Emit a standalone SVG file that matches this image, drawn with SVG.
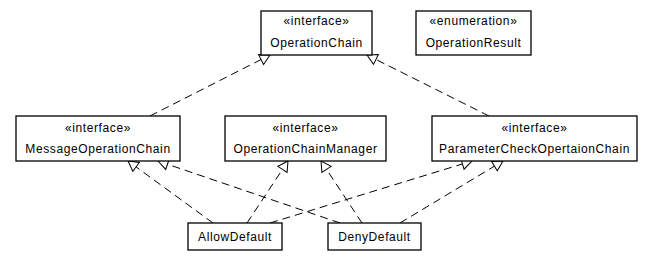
<svg xmlns="http://www.w3.org/2000/svg" width="656" height="267" viewBox="0 0 656 267">
  <style>
    .box { fill: #ffffff; stroke: #000000; stroke-width: 1.3; }
    .lbl { font-family: "Liberation Sans", Arial, Helvetica, sans-serif; font-size: 12px; letter-spacing: 0.6px; fill: #000000; text-anchor: middle; }
    .dep { fill: none; stroke: #000000; stroke-width: 1; stroke-dasharray: 8,5; marker-end: url(#realize); }
  </style>
  <defs>
    <!-- hollow triangle used for realization arrows -->
    <marker id="realize" markerUnits="userSpaceOnUse" markerWidth="14" markerHeight="14" viewBox="-12 -7 14 14" refX="0" refY="0" orient="auto">
      <path d="M0,0 L-10,-5.5 L-10,5.5 Z" fill="#ffffff" stroke="#000000" stroke-width="1"/>
    </marker>
  </defs>

  <g id="connectors">
    <line class="dep" x1="150" y1="116" x2="270" y2="55"/>
    <line class="dep" x1="489" y1="116" x2="367" y2="55"/>
    <line class="dep" x1="213" y1="223" x2="128" y2="161"/>
    <line class="dep" x1="340" y1="223" x2="158" y2="161"/>
    <line class="dep" x1="247" y1="223" x2="288" y2="161"/>
    <line class="dep" x1="362" y1="223" x2="321" y2="161"/>
    <line class="dep" x1="270" y1="223" x2="472" y2="161"/>
    <line class="dep" x1="400" y1="223" x2="503" y2="161"/>
  </g>

  <g id="OperationChain">
    <rect class="box" x="261" y="11" width="111" height="44"/>
    <text class="lbl" x="316.5" y="25">«interface»</text>
    <text class="lbl" x="316.5" y="47">OperationChain</text>
  </g>

  <g id="OperationResult">
    <rect class="box" x="416" y="11" width="115" height="44"/>
    <text class="lbl" x="473.5" y="25">«enumeration»</text>
    <text class="lbl" x="473.5" y="47">OperationResult</text>
  </g>

  <g id="MessageOperationChain">
    <rect class="box" x="16" y="116" width="164" height="45"/>
    <text class="lbl" x="98" y="132">«interface»</text>
    <text class="lbl" x="98" y="153">MessageOperationChain</text>
  </g>

  <g id="OperationChainManager">
    <rect class="box" x="225" y="116" width="161" height="45"/>
    <text class="lbl" x="305.5" y="132">«interface»</text>
    <text class="lbl" x="305.5" y="153">OperationChainManager</text>
  </g>

  <g id="ParameterCheckOpertaionChain">
    <rect class="box" x="432" y="116" width="205" height="45"/>
    <text class="lbl" x="534.5" y="132">«interface»</text>
    <text class="lbl" x="534.5" y="153">ParameterCheckOpertaionChain</text>
  </g>

  <g id="AllowDefault">
    <rect class="box" x="188" y="223" width="94" height="27"/>
    <text class="lbl" x="235" y="241">AllowDefault</text>
  </g>

  <g id="DenyDefault">
    <rect class="box" x="328" y="223" width="93" height="27"/>
    <text class="lbl" x="374.5" y="241">DenyDefault</text>
  </g>
</svg>
